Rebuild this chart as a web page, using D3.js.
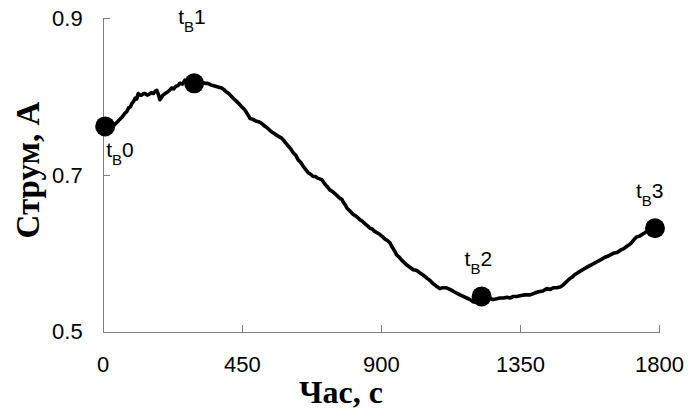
<!DOCTYPE html>
<html><head><meta charset="utf-8">
<script src="https://cdn.jsdelivr.net/npm/d3@7"></script>
<style>body{margin:0;background:#fff}svg{display:block}</style>
</head><body>
<svg id="c" width="689" height="410"></svg>
<script>
// Time (s) and current (A) of the measured curve
const timeS = [5,18,25,33,40,48,55,63,72,78,84,90,94,100,105,110,115,121,126,132,137,144,150,157,164,170,175,180,185,190,195,202,210,216,223,230,236,243,250,258,266,273,280,288,296,305,315,323,331,340,350,359,368,376,385,392,400,408,417,425,433,441,450,458,465,471,477,486,495,504,514,522,530,538,547,555,562,570,579,588,598,607,617,625,633,641,649,657,665,673,681,688,695,702,709,716,722,729,735,743,752,760,768,774,779,785,790,800,810,821,832,840,848,857,865,872,880,889,897,906,914,922,930,935,940,946,951,960,968,976,984,995,1005,1016,1027,1038,1050,1060,1070,1080,1091,1098,1105,1112,1118,1128,1137,1147,1156,1167,1178,1189,1199,1206,1213,1220,1226,1236,1245,1255,1264,1275,1285,1297,1308,1318,1329,1340,1350,1366,1383,1396,1410,1424,1437,1448,1458,1469,1480,1488,1496,1504,1512,1520,1528,1536,1544,1557,1570,1584,1598,1612,1625,1638,1652,1664,1675,1686,1696,1704,1712,1720,1728,1737,1745,1753,1760,1768,1775,1781,1787];
const currentA = [0.760,0.761,0.763,0.762,0.765,0.768,0.771,0.774,0.779,0.781,0.786,0.787,0.791,0.794,0.798,0.797,0.804,0.802,0.802,0.804,0.804,0.802,0.803,0.805,0.804,0.807,0.808,0.803,0.796,0.799,0.802,0.804,0.806,0.808,0.811,0.810,0.813,0.814,0.817,0.816,0.821,0.819,0.818,0.818,0.818,0.819,0.819,0.818,0.817,0.817,0.815,0.814,0.813,0.812,0.811,0.809,0.806,0.804,0.800,0.797,0.794,0.791,0.787,0.784,0.780,0.776,0.772,0.771,0.769,0.768,0.766,0.763,0.761,0.758,0.755,0.753,0.751,0.749,0.747,0.743,0.738,0.734,0.728,0.725,0.719,0.716,0.711,0.707,0.703,0.701,0.698,0.698,0.696,0.695,0.694,0.690,0.687,0.684,0.681,0.679,0.676,0.673,0.670,0.669,0.665,0.662,0.658,0.654,0.650,0.647,0.643,0.641,0.638,0.635,0.632,0.631,0.628,0.626,0.624,0.621,0.618,0.616,0.613,0.609,0.606,0.602,0.598,0.595,0.591,0.588,0.585,0.582,0.579,0.578,0.575,0.572,0.568,0.565,0.561,0.558,0.555,0.556,0.556,0.556,0.555,0.553,0.551,0.549,0.547,0.545,0.543,0.541,0.538,0.538,0.540,0.540,0.541,0.542,0.543,0.542,0.541,0.542,0.543,0.543,0.544,0.543,0.545,0.545,0.546,0.547,0.547,0.549,0.551,0.552,0.555,0.554,0.556,0.556,0.557,0.559,0.562,0.565,0.568,0.570,0.573,0.575,0.577,0.580,0.583,0.586,0.589,0.592,0.595,0.597,0.600,0.601,0.604,0.606,0.609,0.611,0.614,0.618,0.621,0.622,0.624,0.626,0.628,0.629,0.630,0.631,0.632];
// Marked points tB0..tB3
const markTime = [8,296,1226,1787];
const markCurrent = [0.762,0.817,0.545,0.632];
const markNames = ["0","1","2","3"];
const xTicks = [0,450,900,1350,1800];
const yTicks = [0.5,0.7,0.9];
const xTitle = "Час, с";
const yTitle = "Струм, А";

const svg = d3.select("#c");
const x = d3.scaleLinear().domain([0,1800]).range([102.7,659]);
const y = d3.scaleLinear().domain([0.5,0.9]).range([331.7,18.3]);

const xAxis = svg.append("g").attr("transform",`translate(0,${y(0.5)})`)
  .call(d3.axisBottom(x).tickValues(xTicks).tickFormat(d3.format("d")).tickSizeInner(-7).tickSizeOuter(0).tickPadding(25));
const yAxis = svg.append("g").attr("transform",`translate(${x(0)},0)`)
  .call(d3.axisLeft(y).tickValues(yTicks).tickFormat(d3.format(".1f")).tickSizeInner(-7).tickSizeOuter(0).tickPadding(20));
[xAxis,yAxis].forEach(g=>{
  g.selectAll("path,line").attr("stroke","#7f7f7f").attr("stroke-width",1).attr("shape-rendering","crispEdges");
  g.selectAll("text").attr("font-family","'Liberation Sans', Arial, sans-serif").attr("font-size",22).attr("fill","#000");
});

const data = timeS.map((t,i)=>[t,currentA[i]]);
svg.append("path").datum(data)
  .attr("fill","none").attr("stroke","#000").attr("stroke-width",3.6).attr("stroke-linejoin","round")
  .attr("d",d3.line().x(d=>x(d[0])).y(d=>y(d[1])));

const marks = markTime.map((t,i)=>({t,v:markCurrent[i],n:markNames[i]}));
svg.selectAll("circle.m").data(marks).join("circle")
  .attr("cx",d=>x(d.t)).attr("cy",d=>y(d.v)).attr("r",10).attr("fill","#000");

// label offsets (relative to marker)
const labOff = [[1,31],[-16,-59],[-17,-30],[-19,-30]];
const lab = svg.selectAll("text.lab").data(marks).join("text")
  .attr("class","lab")
  .attr("x",(d,i)=>x(d.t)+labOff[i][0]).attr("y",(d,i)=>y(d.v)+labOff[i][1])
  .attr("font-family","'Liberation Sans', Arial, sans-serif").attr("font-size",21).attr("fill","#000");
lab.append("tspan").text("t");
lab.append("tspan").attr("font-size",15).attr("dy",8).text("B");
lab.append("tspan").attr("dy",-8).text(d=>d.n);

svg.append("text").attr("x",341).attr("y",403).attr("text-anchor","middle")
  .attr("font-family","'Liberation Serif', 'Times New Roman', serif").attr("font-weight","bold").attr("font-size",32)
  .text(xTitle);
svg.append("text").attr("transform","translate(39,170) rotate(-90)").attr("text-anchor","middle")
  .attr("font-family","'Liberation Serif', 'Times New Roman', serif").attr("font-weight","bold").attr("font-size",33)
  .text(yTitle);
</script>
</body></html>
